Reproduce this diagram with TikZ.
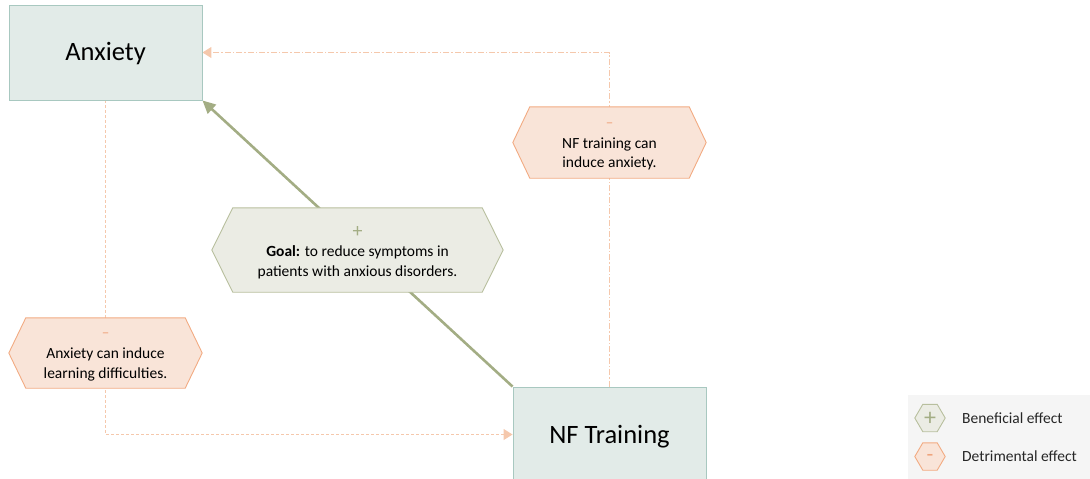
\documentclass[tikz,border=0pt]{standalone}
\usepackage{fontspec}
\setmainfont{Carlito}
\usetikzlibrary{arrows.meta}
\pgfdeclarelayer{conn}
\pgfdeclarelayer{hex}
\pgfsetlayers{conn,hex,main}
\definecolor{boxfill}{HTML}{E2EBE8}
\definecolor{boxline}{HTML}{A8C8C0}
\definecolor{ofill}{HTML}{F9E4D8}
\definecolor{oline}{HTML}{F2AB82}
\definecolor{osign}{HTML}{EFA47C}
\definecolor{gfill}{HTML}{EBECE4}
\definecolor{gline}{HTML}{B8BF9E}
\definecolor{gsign}{HTML}{A3AD84}
\definecolor{garrow}{HTML}{A3AD84}
\definecolor{dline}{HTML}{F5C8AC}
\definecolor{legbg}{HTML}{F5F5F5}
\newcommand\hexshape[3]{%
  \begin{pgfonlayer}{hex}
    \draw[#3] (#1.west) -- ([xshift=#2]#1.north west) -- ([xshift=-#2]#1.north east)
      -- (#1.east) -- ([xshift=-#2]#1.south east) -- ([xshift=#2]#1.south west) -- cycle;
  \end{pgfonlayer}}
\tikzset{
  box/.style={draw=boxline, fill=boxfill, line width=0.9pt, minimum width=193pt,
    minimum height=95pt, inner sep=0pt, font=\fontsize{26.5}{30}\selectfont},
  boxtext/.style={inner sep=0pt, font=\fontsize{26.5}{30}\selectfont},
  hexframe/.style={inner sep=0pt},
  hexnode/.style={inner sep=0pt, align=center, font=\fontsize{15.5}{19.5}\selectfont},
  ohex/.style={draw=oline, fill=ofill, line width=0.9pt},
  ghex/.style={draw=gline, fill=gfill, line width=0.9pt},
  goalarrow/.style={draw=garrow, line width=2.6pt,
    -{Triangle[length=13pt,width=12pt]}},
  dashdotconn/.style={draw=dline, line width=1pt, dash pattern=on 6pt off 2pt on 1.5pt off 2pt,
    -{Triangle[length=9pt,width=11pt]}},
  dashconn/.style={draw=dline, line width=1pt, dash pattern=on 3pt off 2pt,
    -{Triangle[length=9pt,width=11pt]}},
  legtext/.style={anchor=west, inner sep=0pt, font=\fontsize{15.5}{18}\selectfont, text=black!85},
  leghex/.style={inner sep=0pt, minimum width=30pt, minimum height=27pt}
}
\begin{document}
\begin{tikzpicture}[x=1pt,y=-1pt]
\useasboundingbox (0,0) rectangle (1090,479);
% legend background
\begin{pgfonlayer}{conn}
\fill[legbg] (908,395) rectangle (1090,479);
\end{pgfonlayer}

% main boxes
\node[box] (anx) at (105.5,52.5) {};
\node[boxtext] (anxt) at ([yshift=-1.5pt]anx.center) {Anxiety};
\node[box] (nf) at (609.5,434.5) {};
\node[boxtext] (nft) at ([yshift=-2pt]nf.center) {NF Training};

% hexagon label nodes
\node[hexframe, minimum width=193pt, minimum height=71pt] (hnf) at (609.5,142.5) {};
\hexshape{hnf}{17pt}{ohex}
\node[hexnode] (hnft) at ([yshift=-4pt]hnf.center)
  {{\color{osign}\fontsize{15}{15}\selectfont –}\\[1pt]NF training can\\induce anxiety.};

\node[hexframe, minimum width=291pt, minimum height=84pt] (hgoal) at (357.5,250) {};
\hexshape{hgoal}{21pt}{ghex}
\node[hexnode] (hgoalt) at ([yshift=-2.5pt]hgoal.center)
  {{\color{gsign}\fontsize{20}{20}\selectfont +}\\\textbf{Goal:} to reduce symptoms in\\patients with anxious disorders.};

\node[hexframe, minimum width=193pt, minimum height=70pt] (hanx) at (105.5,353) {};
\hexshape{hanx}{17pt}{ohex}
\node[hexnode] (hanxt) at ([yshift=-4pt]hanx.center)
  {{\color{osign}\fontsize{15}{15}\selectfont –}\\[2pt]Anxiety can induce\\learning difficulties.};

% connectors
\begin{pgfonlayer}{conn}
  \draw[goalarrow] (nf.north west) -- (anx.south east);
  \draw[dashdotconn] (nf.north) |- (anx.east);
  \draw[dashconn] (anx.south) |- (nf.west);
\end{pgfonlayer}

% legend
\node[leghex] (lg) at (930,418) {};
\hexshape{lg}{8pt}{ghex}
\node[inner sep=0pt, font=\fontsize{24}{24}\selectfont, text=gsign] (lgs) at ([yshift=-0.5pt]lg.center) {+};
\node[leghex] (lo) at (930,456.5) {};
\hexshape{lo}{8pt}{ohex}
\node[inner sep=0pt, font=\fontsize{22}{22}\selectfont, text=osign] (los) at ([yshift=-1pt]lo.center) {-};
\node[legtext] (lgt) at (962,418) {Beneficial effect};
\node[legtext] (lot) at (962,456.5) {Detrimental effect};
\end{tikzpicture}
\end{document}
